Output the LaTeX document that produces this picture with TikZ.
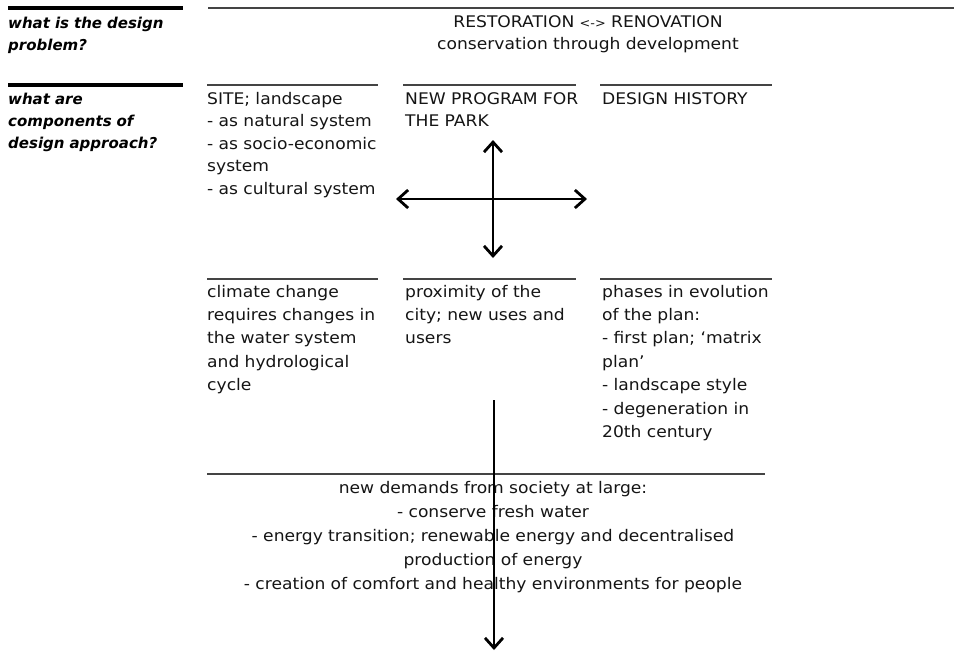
\documentclass[tikz,border=0pt]{standalone}
\usepackage{fontspec}
\setmainfont{DejaVu Sans}[FakeStretch=1.07]
\newfontfamily\labfont{DejaVu Sans}
\usetikzlibrary{arrows.meta}
\definecolor{ink}{HTML}{151515}
\definecolor{rule}{HTML}{444444}
\tikzset{
  txt/.style={inner sep=0pt, anchor=base west, text width=220pt, align=left, text=ink,
    font=\fontsize{16}{22.5}\selectfont},
  txtb/.style={txt, font=\fontsize{16}{23.4}\selectfont},
  ctxt/.style={inner sep=0pt, anchor=base, text width=600pt, align=center, text=ink,
    font=\fontsize{16}{22}\selectfont},
  ctxtb/.style={ctxt, font=\fontsize{16}{24}\selectfont},
  lab/.style={inner sep=0pt, anchor=base west, text width=180pt, align=left, text=black,
    font=\labfont\fontsize{15}{22}\selectfont\bfseries\itshape},
  thickrule/.style={line width=3.2pt, black},
  colrule/.style={line width=2pt, rule},
  toprule/.style={line width=1.6pt, rule},
  bigarrow/.style={line width=2.8pt, black, {Straight Barb[length=10pt,width=18pt]}-{Straight Barb[length=10pt,width=18pt]}},
  downarrow/.style={line width=2.8pt, black, -{Straight Barb[length=10pt,width=18pt]}}
}
\begin{document}
\begin{tikzpicture}[x=1pt,y=-1pt]
\useasboundingbox[fill=white] (0,0) rectangle (954,657);
% rules
\draw[thickrule] (8,8) -- (183,8);
\draw[thickrule] (8,85) -- (183,85);
\draw[toprule] (208,8) -- (954,8);
\draw[colrule] (207,85) -- (378,85);
\draw[colrule] (403,85) -- (576,85);
\draw[colrule] (600,85) -- (772,85);
\draw[colrule] (207,279) -- (378,279);
\draw[colrule] (403,279) -- (576,279);
\draw[colrule] (600,279) -- (772,279);
\draw[colrule] (207,474) -- (765,474);
% left labels
\node[lab] (q1) at (8,28) {what is the design\\problem?};
\node[lab] (q2) at (8,104) {what are\\components of\\design approach?};
% top
\node[ctxt] (prob) at (588,27) {RESTORATION {\fontsize{12}{22}\selectfont<->} RENOVATION\\conservation through development};
% row 1
\node[txt] (site) at (207,104) {SITE; landscape\\- as natural system\\- as socio-economic\\system\\- as cultural system};
\node[txt] (prog) at (405,104) {NEW PROGRAM FOR\\THE PARK};
\node[txt] (hist) at (602,104) {DESIGN HISTORY};
% row 2
\node[txtb] (clim) at (207,297) {climate change\\requires changes in\\the water system\\and hydrological\\cycle};
\node[txtb] (prox) at (405,297) {proximity of the\\city; new uses and\\users};
\node[txtb] (phas) at (602,297) {phases in evolution\\of the plan:\\- first plan; `matrix\\plan'\\- landscape style\\- degeneration in\\20th century};
% bottom
\node[ctxtb] (dem) at (493,493) {new demands from society at large:\\- conserve fresh water\\- energy transition; renewable energy and decentralised\\production of energy\\- creation of comfort and healthy environments for people};
% arrows
\coordinate (cl) at (396,199);
\coordinate (cr) at (587,199);
\coordinate (ct) at (493,140);
\coordinate (cb) at (493,258);
\coordinate (dt) at (494,400);
\coordinate (db) at (494,650);
\draw[bigarrow] (cl) -- (cr);
\draw[bigarrow] (ct) -- (cb);
\draw[downarrow] (dt) -- (db);
\end{tikzpicture}
\end{document}
